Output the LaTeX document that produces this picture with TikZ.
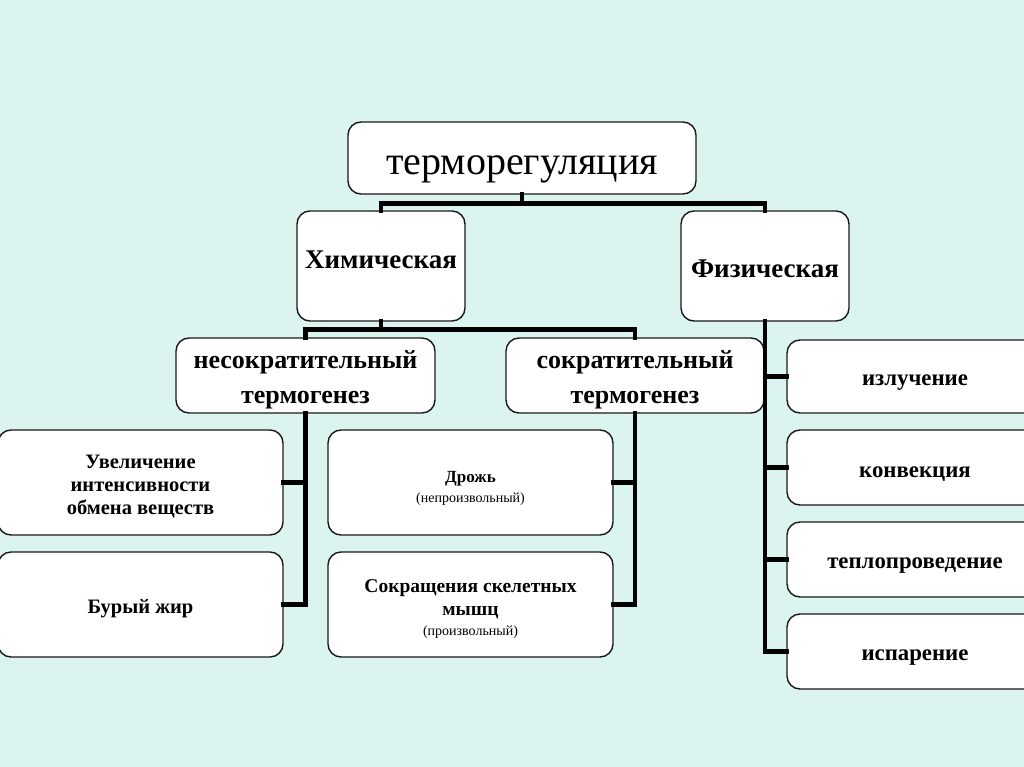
\documentclass[tikz,border=0pt]{standalone}
\usepackage{fontspec}
\setmainfont{Liberation Serif}
\definecolor{bgmint}{RGB}{220,244,240}
\definecolor{edge}{RGB}{25,25,25}
\tikzset{
  box/.style={draw=edge, line width=1.4pt, fill=white, rounded corners=13pt, inner sep=0pt},
  conn/.style={draw=black, line width=4.8pt, line cap=rect},
  lbl/.style={anchor=base, inner sep=0pt},
  topfont/.style={lbl, font=\fontsize{40}{44}\selectfont},
  bigfont/.style={lbl, font=\bfseries\fontsize{27}{30}\selectfont},
  midfont/.style={lbl, font=\bfseries\fontsize{26}{30}\selectfont},
  smallfont/.style={lbl, font=\bfseries\fontsize{20.5}{24}\selectfont},
  tremfont/.style={lbl, font=\bfseries\fontsize{17}{20}\selectfont},
  skelfont/.style={lbl, font=\bfseries\fontsize{19.5}{23}\selectfont},
  notefont/.style={lbl, font=\fontsize{14}{16}\selectfont},
  rightfont/.style={lbl, font=\bfseries\fontsize{22.8}{26}\selectfont},
}
\begin{document}
\begin{tikzpicture}[x=1pt,y=-1pt]
\fill[bgmint] (0,0) rectangle (1024,767);
\useasboundingbox (0,0) rectangle (1024,767);
\clip (0,0) rectangle (1024,767);

% boxes
\node[box, minimum width=348pt, minimum height=72pt] (top) at (522,158) {};
\node[box, minimum width=168pt, minimum height=110pt] (chem) at (381,266) {};
\node[box, minimum width=168pt, minimum height=110pt] (phys) at (765,266) {};
\node[box, minimum width=259pt, minimum height=75pt] (nonshiv) at (305.5,375.5) {};
\node[box, minimum width=258pt, minimum height=75pt] (shiv) at (635,375.5) {};
\node[box, minimum width=285pt, minimum height=105pt] (incr) at (140.5,482.5) {};
\node[box, minimum width=285pt, minimum height=105pt] (brown) at (140.5,604.5) {};
\node[box, minimum width=285pt, minimum height=105pt] (tremor) at (470.5,482.5) {};
\node[box, minimum width=285pt, minimum height=105pt] (skel) at (470.5,604.5) {};
\node[box, minimum width=256pt, minimum height=73pt] (rad) at (915,376.5) {};
\node[box, minimum width=256pt, minimum height=75pt] (conv) at (915,467.5) {};
\node[box, minimum width=256pt, minimum height=75pt] (cond) at (915,559.5) {};
\node[box, minimum width=256pt, minimum height=75pt] (evap) at (915,651.5) {};

% texts
\node[topfont] (topT) at (522,175) {терморегуляция};
\node[bigfont] (chemT) at (381,268) {Химическая};
\node[bigfont] (physT) at (765,277) {Физическая};
\node[midfont] (nonshivT1) at (305.5,368) {несократительный};
\node[midfont] (nonshivT2) at (305.5,403) {термогенез};
\node[midfont] (shivT1) at (635,368) {сократительный};
\node[midfont] (shivT2) at (635,403) {термогенез};
\node[smallfont] (incrT1) at (140.5,468) {Увеличение};
\node[smallfont] (incrT2) at (140.5,491) {интенсивности};
\node[smallfont] (incrT3) at (140.5,514) {обмена веществ};
\node[smallfont] (brownT) at (140.5,613) {Бурый жир};
\node[tremfont] (tremorT1) at (470.5,482) {Дрожь};
\node[notefont] (tremorT2) at (470.5,502) {(непроизвольный)};
\node[skelfont] (skelT1) at (470.5,592) {Сокращения скелетных};
\node[skelfont] (skelT2) at (470.5,615) {мышц};
\node[notefont] (skelT3) at (470.5,635) {(произвольный)};
\node[rightfont] (radT) at (915,385) {излучение};
\node[rightfont] (convT) at (915,477) {конвекция};
\node[rightfont] (condT) at (915,568.5) {теплопроведение};
\node[rightfont] (evapT) at (915,660.5) {испарение};

% connectors
\draw[conn] (top.south) -- ++(0,9) coordinate (j1);
\draw[conn] (j1) -| (chem.north);
\draw[conn] (j1) -| (phys.north);

\draw[conn] (chem.south) -- ++(0,8) coordinate (j2);
\draw[conn] (j2) -| (nonshiv.north);
\draw[conn] (j2) -| (shiv.north);

\draw[conn] (nonshiv.south) |- (incr.east);
\draw[conn] (nonshiv.south) |- (brown.east);
\draw[conn] (shiv.south) |- (tremor.east);
\draw[conn] (shiv.south) |- (skel.east);

\draw[conn] (phys.south) |- (rad.west);
\draw[conn] (phys.south) |- (conv.west);
\draw[conn] (phys.south) |- (cond.west);
\draw[conn] (phys.south) |- (evap.west);
\end{tikzpicture}
\end{document}
